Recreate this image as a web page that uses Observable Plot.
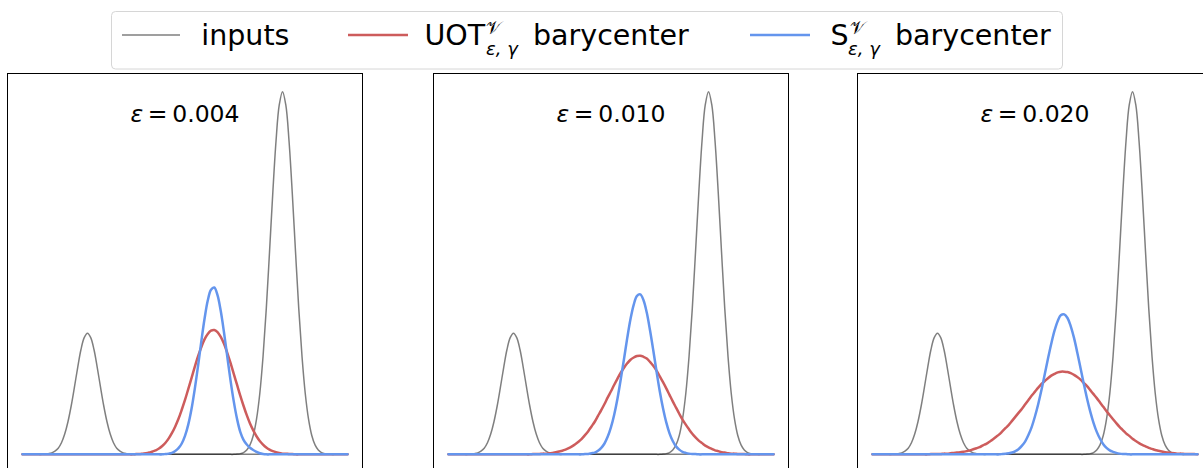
<!DOCTYPE html>
<html>
<head>
<meta charset="utf-8">
<script src="https://cdn.jsdelivr.net/npm/d3@7"></script>
<script src="https://cdn.jsdelivr.net/npm/@observablehq/plot@0.6"></script>
<style>
  html, body { margin: 0; padding: 0; background: #fff; width: 1203px; height: 468px; overflow: hidden; font-family: "DejaVu Sans", sans-serif; }
  #root { position: relative; width: 1203px; height: 468px; overflow: hidden; }
  .panel { position: absolute; top: 72px; }
</style>
</head>
<body>
<div id="root"></div>
<script>
// ---------- data ----------
const xGrid = [
  0,0.01,0.02,0.03,0.04,0.05,0.06,0.07,0.08,0.09,
  0.1,0.11,0.12,0.13,0.14,0.15,0.16,0.17,0.18,0.19,
  0.2,0.21,0.22,0.23,0.24,0.25,0.26,0.27,0.28,0.29,
  0.3,0.31,0.32,0.33,0.34,0.35,0.36,0.37,0.38,0.39,
  0.4,0.41,0.42,0.43,0.44,0.45,0.46,0.47,0.48,0.49,
  0.5,0.51,0.52,0.53,0.54,0.55,0.56,0.57,0.58,0.59,
  0.6,0.61,0.62,0.63,0.64,0.65,0.66,0.67,0.68,0.69,
  0.7,0.71,0.72,0.73,0.74,0.75,0.76,0.77,0.78,0.79,
  0.8,0.81,0.82,0.83,0.84,0.85,0.86,0.87,0.88,0.89,
  0.9,0.91,0.92,0.93,0.94,0.95,0.96,0.97,0.98,0.99,
  1
];

// input 1 (left, small) and input 2 (right, tall)
const inputA = [
  0,0,0,0,0,0,0,0.001,0.002,0.004,
  0.009,0.017,0.032,0.056,0.090,0.134,0.186,0.240,0.289,0.322,
  0.334,0.322,0.289,0.240,0.186,0.134,0.090,0.056,0.032,0.017,
  0.009,0.004,0.002,0.001,0,0,0,0,0,0,
  0,0,0,0,0,0,0,0,0,0,
  0,0,0,0,0,0,0,0,0,0,
  0,0,0,0,0,0,0,0,0,0,
  0,0,0,0,0,0,0,0,0,0,
  0,0,0,0,0,0,0,0,0,0,
  0,0,0,0,0,0,0,0,0,0,
  0
];
const inputB = [
  0,0,0,0,0,0,0,0,0,0,
  0,0,0,0,0,0,0,0,0,0,
  0,0,0,0,0,0,0,0,0,0,
  0,0,0,0,0,0,0,0,0,0,
  0,0,0,0,0,0,0,0,0,0,
  0,0,0,0,0,0,0,0,0,0,
  0,0,0,0,0,0,0.001,0.002,0.005,0.012,
  0.026,0.052,0.097,0.167,0.269,0.401,0.558,0.720,0.864,0.964,
  1,0.964,0.864,0.720,0.558,0.401,0.269,0.167,0.097,0.052,
  0.026,0.012,0.005,0.002,0.001,0,0,0,0,0,
  0
];

// UOT barycenters, eps = 0.004, 0.010, 0.020
const uot004 = [
  0,0,0,0,0,0,0,0,0,0,
  0,0,0,0,0,0,0,0,0,0,
  0,0,0,0,0,0,0,0,0,0,
  0,0,0,0,0,0.001,0.001,0.002,0.003,0.005,
  0.008,0.011,0.016,0.023,0.032,0.044,0.059,0.077,0.098,0.123,
  0.150,0.180,0.210,0.241,0.270,0.295,0.317,0.332,0.341,0.343,
  0.337,0.324,0.305,0.280,0.252,0.222,0.192,0.162,0.134,0.108,
  0.085,0.066,0.050,0.037,0.027,0.019,0.013,0.009,0.006,0.004,
  0.002,0.002,0.001,0.001,0,0,0,0,0,0,
  0,0,0,0,0,0,0,0,0,0,
  0
];
const uot010 = [
  0,0,0,0,0,0,0,0,0,0,
  0,0,0,0,0,0,0,0,0,0,
  0,0,0,0,0,0,0.001,0.001,0.001,0.002,
  0.002,0.003,0.004,0.006,0.008,0.010,0.013,0.017,0.022,0.028,
  0.035,0.043,0.053,0.064,0.077,0.090,0.106,0.122,0.139,0.157,
  0.174,0.192,0.209,0.225,0.239,0.251,0.261,0.267,0.271,0.272,
  0.269,0.264,0.255,0.244,0.231,0.215,0.199,0.182,0.164,0.146,
  0.129,0.112,0.096,0.082,0.069,0.057,0.047,0.038,0.031,0.024,
  0.019,0.015,0.011,0.009,0.006,0.005,0.003,0.002,0.002,0.001,
  0.001,0.001,0,0,0,0,0,0,0,0,
  0
];
const uot020 = [
  0,0,0,0,0,0,0,0,0,0,
  0,0,0,0,0,0,0,0,0.001,0.001,
  0.001,0.001,0.002,0.002,0.003,0.004,0.005,0.006,0.007,0.009,
  0.011,0.014,0.017,0.020,0.025,0.029,0.035,0.041,0.048,0.055,
  0.064,0.073,0.082,0.093,0.104,0.115,0.126,0.138,0.150,0.162,
  0.173,0.184,0.194,0.202,0.210,0.217,0.222,0.226,0.228,0.228,
  0.227,0.224,0.219,0.213,0.206,0.197,0.188,0.177,0.166,0.155,
  0.143,0.131,0.119,0.108,0.097,0.086,0.076,0.067,0.058,0.051,
  0.043,0.037,0.031,0.026,0.022,0.018,0.015,0.012,0.010,0.008,
  0.006,0.005,0.004,0.003,0.002,0.002,0.001,0.001,0.001,0.001,
  0
];

// Sinkhorn-divergence barycenters, eps = 0.004, 0.010, 0.020
const sdiv004 = [
  0,0,0,0,0,0,0,0,0,0,
  0,0,0,0,0,0,0,0,0,0,
  0,0,0,0,0,0,0,0,0,0,
  0,0,0,0,0,0,0,0,0,0,
  0,0,0,0,0.001,0.002,0.004,0.009,0.017,0.030,
  0.051,0.082,0.125,0.180,0.243,0.310,0.373,0.424,0.454,0.460,
  0.439,0.395,0.336,0.270,0.204,0.146,0.098,0.062,0.040,0.027,
  0.018,0.012,0.007,0.003,0.001,0,0,0,0,0,
  0,0,0,0,0,0,0,0,0,0,
  0,0,0,0,0,0,0,0,0,0,
  0
];
const sdiv010 = [
  0,0,0,0,0,0,0,0,0,0,
  0,0,0,0,0,0,0,0,0,0,
  0,0,0,0,0,0,0,0,0,0,
  0,0,0,0,0,0,0,0,0,0,
  0,0,0.001,0.001,0.003,0.005,0.010,0.018,0.030,0.049,
  0.075,0.110,0.154,0.207,0.263,0.321,0.373,0.413,0.437,0.441,
  0.425,0.391,0.342,0.287,0.229,0.174,0.127,0.088,0.058,0.037,
  0.022,0.013,0.007,0.004,0.002,0.001,0.001,0,0,0,
  0,0,0,0,0,0,0,0,0,0,
  0,0,0,0,0,0,0,0,0,0,
  0
];
const sdiv020 = [
  0,0,0,0,0,0,0,0,0,0,
  0,0,0,0,0,0,0,0,0,0,
  0,0,0,0,0,0,0,0,0,0,
  0,0,0,0,0,0,0,0,0,0,
  0.001,0.002,0.003,0.005,0.009,0.015,0.024,0.036,0.054,0.076,
  0.105,0.139,0.178,0.221,0.264,0.305,0.341,0.368,0.384,0.386,
  0.376,0.353,0.321,0.281,0.238,0.195,0.154,0.118,0.087,0.062,
  0.043,0.028,0.018,0.011,0.007,0.004,0.002,0.001,0.001,0,
  0,0,0,0,0,0,0,0,0,0,
  0,0,0,0,0,0,0,0,0,0,
  0
];

const panelLabels = ["ε\u2009=\u20090.004", "ε\u2009=\u20090.010", "ε\u2009=\u20090.020"];
const uotSeries = [uot004, uot010, uot020];
const sdivSeries = [sdiv004, sdiv010, sdiv020];
const legendLabels = ["inputs", "UOT", "S"];

// ---------- styles ----------
const GRAY = "#000000", RED = "#CD5C5C", BLUE = "#6495ED";
const panelLefts = [6, 432, 856];

const root = document.getElementById("root");
const toRows = arr => xGrid.map((x, i) => ({x, y: arr[i]}));

// ---------- panels ----------
panelLabels.forEach((label, k) => {
  const common = {x: "x", y: "y", curve: "catmull-rom"};
  const chart = Plot.plot({
    width: 357,
    height: 401,
    margin: 1,
    x: {domain: [-0.046, 1.046], axis: null},
    y: {domain: [-0.05, 1.05], axis: null},
    style: {background: "transparent", overflow: "visible"},
    marks: [
      Plot.frame({stroke: "#000", strokeWidth: 1}),
      Plot.line(toRows(inputA), {...common, stroke: GRAY, strokeOpacity: 0.5, strokeWidth: 1.5}),
      Plot.line(toRows(inputB), {...common, stroke: GRAY, strokeOpacity: 0.5, strokeWidth: 1.5}),
      Plot.line(toRows(uotSeries[k]), {...common, stroke: RED, strokeWidth: 2.5}),
      Plot.line(toRows(sdivSeries[k]), {...common, stroke: BLUE, strokeWidth: 2.5}),
      Plot.text([label], {
        text: d => d, frameAnchor: "top", dy: 41, lineAnchor: "middle",
        fontSize: 23.5, fontFamily: "DejaVu Sans", fill: "#000"
      })
    ]
  });
  chart.classList.add("panel");
  chart.style.left = panelLefts[k] + "px";
  // italic epsilon as in the reference math text
  d3.select(chart).selectAll("text").each(function() {
    const t = this.textContent;
    if (t.startsWith("ε")) {
      const sel = d3.select(this);
      sel.text(null);
      sel.append("tspan").attr("font-style", "italic").text("ε");
      sel.append("tspan").text(t.slice(1));
    }
  });
  root.appendChild(chart);
});

// ---------- legend ----------
const lg = d3.create("svg")
  .attr("width", 1203).attr("height", 72)
  .attr("font-family", "DejaVu Sans")
  .style("position", "absolute").style("left", "0px").style("top", "0px");
lg.append("rect")
  .attr("x", 111.5).attr("y", 11.5).attr("width", 951).attr("height", 57.5)
  .attr("rx", 4).attr("fill", "#fff").attr("stroke", "#d6d6d6").attr("stroke-width", 1);

const handle = (x1, x2, color, w, op) => lg.append("line")
  .attr("x1", x1).attr("x2", x2).attr("y1", 35).attr("y2", 35)
  .attr("stroke", color).attr("stroke-width", w).attr("stroke-opacity", op);
const txt = (x, y, size, s, italic) => lg.append("text")
  .attr("x", x).attr("y", y).attr("font-size", size)
  .attr("font-style", italic ? "italic" : "normal").attr("fill", "#000").text(s);

handle(122, 180, GRAY, 1.5, 0.5);
txt(201.3, 45, 28.5, legendLabels[0]);

handle(348, 408, RED, 2.5, 1);
txt(424.5, 45, 28.5, legendLabels[1]);
txt(486, 33.5, 18, "𝒱");
txt(486, 55, 18, "ε, γ", true);
txt(533, 45, 28.5, "barycenter");

handle(750, 810, BLUE, 2.5, 1);
txt(830.5, 45, 28.5, legendLabels[2]);
txt(849.5, 33.5, 18, "𝒱");
txt(848, 55, 18, "ε, γ", true);
txt(895, 45, 28.5, "barycenter");

root.appendChild(lg.node());
</script>
</body>
</html>
